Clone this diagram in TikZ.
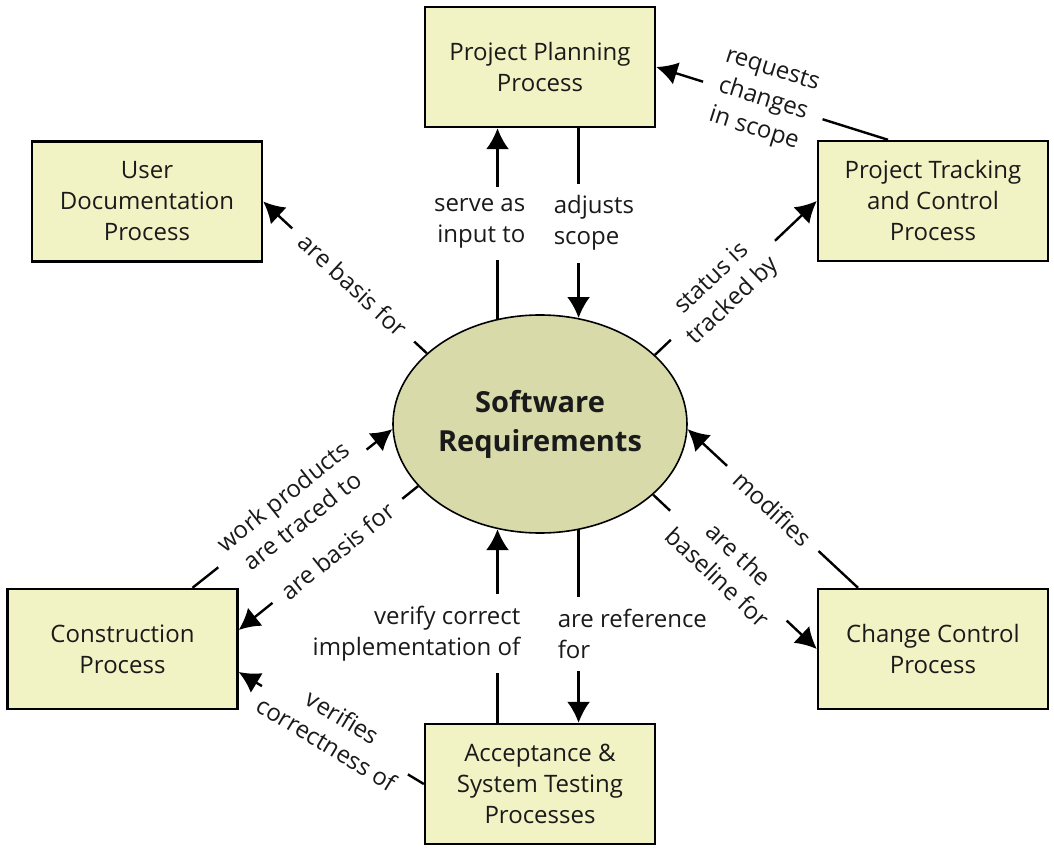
\documentclass[tikz,border=0pt]{standalone}
\usepackage{fontspec}
\setmainfont{Open Sans}
\usetikzlibrary{arrows.meta,positioning,shapes.geometric}
\definecolor{boxcol}{RGB}{242,243,196}
\definecolor{reqcol}{RGB}{216,218,170}
\definecolor{inkcol}{RGB}{26,26,26}
\tikzstyle{proc}=[draw, line width=1.2pt, fill=boxcol, align=center, minimum width=115pt, minimum height=60pt, inner sep=2pt]
\tikzstyle{req}=[draw, ellipse, line width=0.8pt, fill=reqcol, align=center, minimum width=147pt, minimum height=109pt, inner sep=0pt, font=\fontsize{14.5}{19.5}\selectfont\bfseries]
\tikzstyle{lbl}=[fill=white, align=center, sloped, inner xsep=7pt, inner ysep=1pt]
\tikzstyle{vlbl}=[fill=white, inner xsep=1pt, inner ysep=6pt]
\tikzstyle{flow}=[->, line width=1.2pt]

\begin{document}
\begin{tikzpicture}[on grid, >={Latex[length=10.5pt,width=11.5pt]}, font=\fontsize{12}{15.5}\selectfont, text=inkcol]
    \useasboundingbox (-270pt,-213.5pt) rectangle (257pt,212pt);
    \node [req] (sw) at (0,0) {Software\\Requirements};
    \node [proc] (plan) [above=178.5pt of sw] {Project Planning\\Process};
    \node [proc] (ud) [above left=111.25pt and 196.5pt of sw] {User\\Documentation\\Process};
    \node [proc] (tr) [above right=111.5pt and 196.5pt of sw] {Project Tracking\\and Control\\Process};
    \node [proc] (cons) [below left=112.5pt and 208.75pt of sw] {Construction\\Process};
    \node [proc] (cc) [below right=112.5pt and 196.5pt of sw] {Change Control\\Process};
    \node [proc] (acc) [below=180pt of sw] {Acceptance \&\\System Testing\\Processes};
    % up and down
    \draw [flow] (sw.112) -- (sw.112 |- plan.south) node [vlbl, midway, anchor=east, align=right, xshift=15.5pt] {serve as\\input to};
    \draw [flow] (sw.70 |- plan.south) -- (sw.70) node [vlbl, midway, anchor=west, align=left, xshift=-14pt] {adjusts\\scope};
    \draw [flow] (sw.248 |- acc.north) -- (sw.248) node [vlbl, pos=0.46, anchor=east, align=right, xshift=13pt] {verify correct\\implementation of};
    \draw [flow] (sw.290) -- (sw.290 |- acc.north) node [vlbl, pos=0.54, anchor=west, align=left, xshift=-12pt] {are reference\\for};
    % diagonals
    \draw [flow] (sw.148) -- (ud.east) node [lbl, pos=0.45] {are basis for};
    \draw [flow] (sw.31) -- (tr.west) node [lbl, pos=0.42] {status is\\tracked by};
    \draw [flow] ([xshift=-22.5pt]tr.north) -- (plan.east) node [lbl, pos=0.54] {requests\\changes\\in scope};
    \draw [flow] ([xshift=35pt]cons.north) -- (sw.182) node [lbl, midway] {work products\\are traced to};
    \draw [flow] (sw.207) -- ([yshift=9.5pt]cons.east) node [lbl, pos=0.45] {are basis for};
    \draw [flow] (acc.west) -- ([yshift=-11.5pt]cons.east) node [lbl, pos=0.48, inner xsep=3pt] {verifies\\correctness of};
    \draw [flow] ([xshift=-37.5pt]cc.north) -- (sw.358) node [lbl, midway] {modifies};
    \draw [flow] (sw.328) -- (cc.west) node [lbl, pos=0.46] {are the\\baseline for};
\end{tikzpicture}
\end{document}
